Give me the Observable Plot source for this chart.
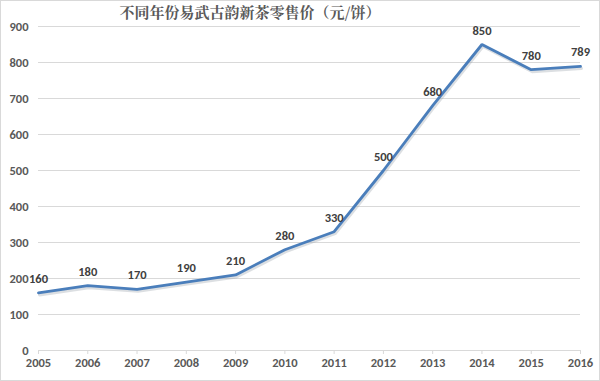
<!DOCTYPE html>
<html><head><meta charset="utf-8">
<script src="https://cdn.jsdelivr.net/npm/d3@7"></script>
<script src="https://cdn.jsdelivr.net/npm/@observablehq/plot@0.6"></script>
<style>
body{margin:0;background:#fff;}
#chart svg{display:block;outline:1px solid #d9d9d9;outline-offset:-1px;}
</style></head>
<body><div id="chart"></div>
<script>
const title = "不同年份易武古韵新茶零售价（元/饼）";
const years = [2005,2006,2007,2008,2009,2010,2011,2012,2013,2014,2015,2016];
const prices = [160,180,170,190,210,280,330,500,680,850,780,789];
const yTicks = [0,100,200,300,400,500,600,700,800,900];

const data = years.map((y,i)=>({year:y, price:prices[i]}));
const font = "Calibri, Carlito, 'Open Sans', 'DejaVu Sans', sans-serif";

const chart = Plot.plot({
  width: 600, height: 381,
  marginLeft: 38, marginRight: 20, marginTop: 26, marginBottom: 31,
  style: {fontFamily: font, background: "#fff"},
  x: {domain: [2005, 2016], ticks: years, tickFormat: d => String(d)},
  y: {domain: [0, 900], ticks: yTicks},
  marks: [
    Plot.gridY(yTicks.filter(t=>t>0), {stroke: "#d9d9d9", strokeOpacity: 1, strokeWidth: 1}),
    Plot.ruleY([0], {stroke: "#d9d9d9", strokeWidth: 1}),
    Plot.axisX({ticks: years, tickFormat: d => String(d), tickSize: 4, tickPadding: 4, stroke: "#d9d9d9", fill: "#595959", fontWeight: "bold", fontSize: 12.5, label: null}),
    Plot.axisY({ticks: yTicks, tickSize: 0, tickPadding: 10, fill: "#595959", fontWeight: "bold", fontSize: 12.5, label: null}),
    Plot.line(data, {x: "year", y: "price", stroke: "#9aa3ad", strokeWidth: 3, strokeOpacity: 0.35, dx: 1, dy: 2}),
    Plot.line(data, {x: "year", y: "price", stroke: "#4a7ebb", strokeWidth: 2.8, strokeLinejoin: "miter"}),
    Plot.text(data, {x: "year", y: "price", text: d => String(d.price), dy: -14, fill: "#404040", fontWeight: "bold", fontSize: 12.5}),
    Plot.text([title], {frameAnchor: "top-left", dx: 81, dy: -19, textAnchor: "start", fill: "#595959", fontSize: 15, fontWeight: "bold", fontFamily: "'Noto Serif CJK SC', 'Noto Sans CJK SC', serif"})
  ]
});
document.getElementById("chart").appendChild(chart);
</script></body></html>
